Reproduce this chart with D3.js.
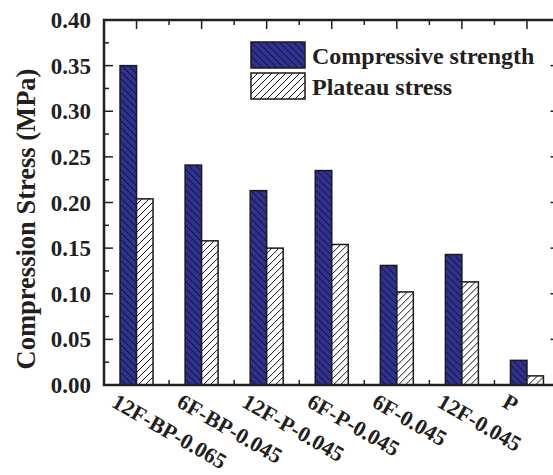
<!DOCTYPE html>
<html>
<head>
<meta charset="utf-8">
<script src="https://cdn.jsdelivr.net/npm/d3@7"></script>
<style>
  body { margin: 0; background: #fff; }
  svg { display: block; font-family: 'Liberation Serif', 'Times New Roman', serif; font-weight: bold; }
</style>
</head>
<body>
<div id="chart"></div>
<script>
const categories = ['12F-BP-0.065', '6F-BP-0.045', '12F-P-0.045', '6F-P-0.045', '6F-0.045', '12F-0.045', 'P'];
const seriesNames = ['Compressive strength', 'Plateau stress'];
const compressive = [0.350, 0.241, 0.213, 0.235, 0.131, 0.143, 0.027];
const plateau = [0.204, 0.158, 0.150, 0.154, 0.102, 0.113, 0.010];
const yTicks = [0, 0.05, 0.10, 0.15, 0.20, 0.25, 0.30, 0.35, 0.40];

const width = 553;
const height = 475;
const margin = { top: 20, right: -6.5, bottom: 90, left: 104 };
const innerW = width - margin.left - margin.right;
const innerH = height - margin.top - margin.bottom;
const ink = '#231f20';

const svg = d3.select('#chart')
  .append('svg')
  .attr('width', width)
  .attr('height', height);

const defs = svg.append('defs');

const hatchBlue = defs.append('pattern')
  .attr('id', 'hatch-blue')
  .attr('patternUnits', 'userSpaceOnUse')
  .attr('width', 7)
  .attr('height', 7);
hatchBlue.append('rect').attr('width', 7).attr('height', 7).attr('fill', '#2e3192');
hatchBlue.append('path')
  .attr('d', 'M-1,-1 L8,8 M-1,6 L1,8 M6,-1 L8,1')
  .attr('stroke', '#111')
  .attr('stroke-width', 1);

const hatchWhite = defs.append('pattern')
  .attr('id', 'hatch-white')
  .attr('patternUnits', 'userSpaceOnUse')
  .attr('width', 7)
  .attr('height', 7);
hatchWhite.append('rect').attr('width', 7).attr('height', 7).attr('fill', '#fff');
hatchWhite.append('path')
  .attr('d', 'M-1,8 L8,-1 M-1,1 L1,-1 M6,8 L8,6')
  .attr('stroke', '#111')
  .attr('stroke-width', 1);

const fills = ['url(#hatch-blue)', 'url(#hatch-white)'];

const g = svg.append('g')
  .attr('transform', `translate(${margin.left},${margin.top})`);

const x0 = d3.scaleBand()
  .domain(categories)
  .range([0, innerW])
  .padding(0);

const x1 = d3.scaleBand()
  .domain(seriesNames)
  .range([x0.bandwidth() / 2 - 16.5, x0.bandwidth() / 2 + 16.5])
  .padding(0);

const y = d3.scaleLinear()
  .domain([0, 0.4])
  .range([innerH, 0]);

const minorY = d3.range(0.025, 0.4, 0.05);
const centers = categories.map(c => x0(c) + x0.bandwidth() / 2);
const bounds = d3.range(1, categories.length).map(i => x0(categories[i]));

// axis ticks (all pointing inward)
const tickG = g.append('g').attr('stroke', ink).attr('stroke-width', 1.5);
yTicks.forEach(t => {
  tickG.append('line').attr('x1', 0).attr('x2', 9).attr('y1', y(t)).attr('y2', y(t));
  tickG.append('line').attr('x1', innerW).attr('x2', innerW - 9).attr('y1', y(t)).attr('y2', y(t));
});
minorY.forEach(t => {
  tickG.append('line').attr('x1', 0).attr('x2', 5).attr('y1', y(t)).attr('y2', y(t));
  tickG.append('line').attr('x1', innerW).attr('x2', innerW - 5).attr('y1', y(t)).attr('y2', y(t));
});
centers.forEach(cx => {
  tickG.append('line').attr('x1', cx).attr('x2', cx).attr('y1', 0).attr('y2', 9);
  tickG.append('line').attr('x1', cx).attr('x2', cx).attr('y1', innerH).attr('y2', innerH - 9);
});
bounds.forEach(bx => {
  tickG.append('line').attr('x1', bx).attr('x2', bx).attr('y1', 0).attr('y2', 5);
  tickG.append('line').attr('x1', bx).attr('x2', bx).attr('y1', innerH).attr('y2', innerH - 5);
});

// bars
const rows = categories.map((c, i) => ({ cat: c, values: [compressive[i], plateau[i]] }));
const groups = g.selectAll('.group')
  .data(rows)
  .join('g')
  .attr('class', 'group')
  .attr('transform', d => `translate(${x0(d.cat)},0)`);

groups.selectAll('rect')
  .data(d => d.values.map((v, k) => ({ key: seriesNames[k], v, k })))
  .join('rect')
  .attr('x', d => x1(d.key))
  .attr('width', x1.bandwidth())
  .attr('y', d => y(d.v))
  .attr('height', d => innerH - y(d.v))
  .attr('fill', d => fills[d.k])
  .attr('stroke', '#1a1a1a')
  .attr('stroke-width', 1.5);

// frame
g.append('rect')
  .attr('width', innerW)
  .attr('height', innerH)
  .attr('fill', 'none')
  .attr('stroke', ink)
  .attr('stroke-width', 2.5);

// y tick labels
g.append('g')
  .selectAll('text')
  .data(yTicks)
  .join('text')
  .attr('x', -13)
  .attr('y', d => y(d))
  .attr('dy', '0.35em')
  .attr('text-anchor', 'end')
  .attr('font-size', 23)
  .attr('fill', ink)
  .text(d => d3.format('.2f')(d));

// x labels, rotated
g.append('g')
  .selectAll('text')
  .data(categories)
  .join('text')
  .attr('transform', c => `translate(${x0(c) + x0.bandwidth() / 2 - 26},${innerH + 21}) rotate(30)`)
  .attr('font-size', 22)
  .attr('fill', ink)
  .text(c => c);

// y axis title
svg.append('text')
  .attr('transform', 'translate(35,219) rotate(-90)')
  .attr('text-anchor', 'middle')
  .attr('font-size', 26.5)
  .attr('fill', ink)
  .text('Compression Stress (MPa)');

// legend
const legend = svg.append('g').attr('transform', 'translate(251,42)');
seriesNames.forEach((name, i) => {
  const row = legend.append('g').attr('transform', `translate(0,${i * 31})`);
  row.append('rect')
    .attr('width', 54)
    .attr('height', 26)
    .attr('fill', fills[i])
    .attr('stroke', '#1a1a1a')
    .attr('stroke-width', 1.5);
  row.append('text')
    .attr('x', 61)
    .attr('y', 22)
    .attr('font-size', 24)
    .attr('fill', ink)
    .text(name);
});
</script>
</body>
</html>
